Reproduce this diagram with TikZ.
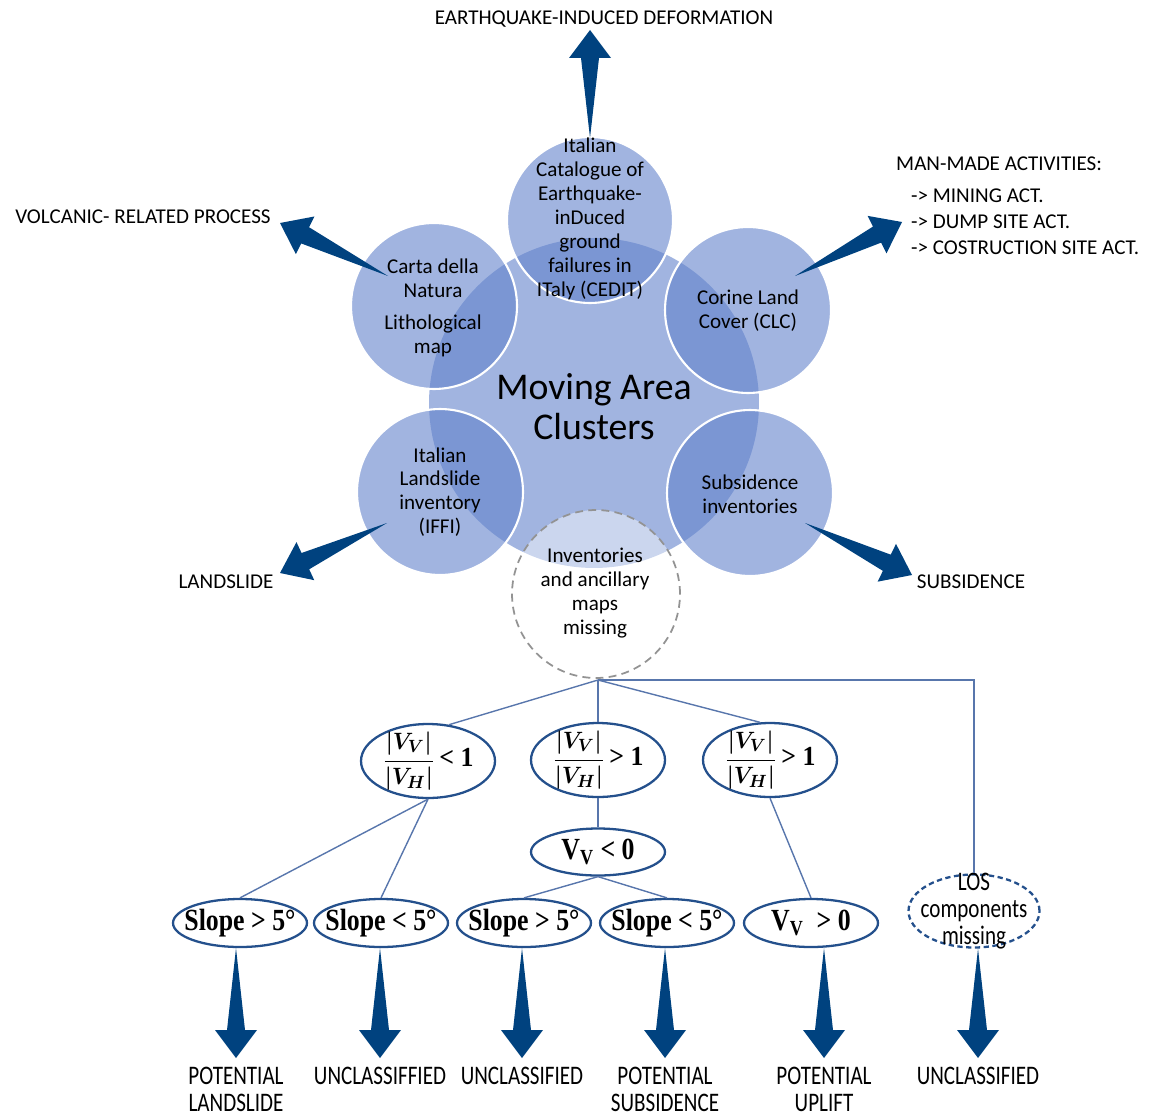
\documentclass[tikz,border=0pt]{standalone}
\usepackage{fontspec}
\setmainfont{Carlito}
\newfontfamily\condfont{Liberation Serif}
\usetikzlibrary{calc}
\usetikzlibrary{shapes.geometric}

\definecolor{circblue}{RGB}{98,130,203}
\definecolor{arrowblue}{RGB}{0,66,127}
\definecolor{treeblue}{RGB}{36,80,140}
\definecolor{linkblue}{RGB}{88,118,172}

\newcommand{\tall}[1]{\scalebox{1}[1.27]{#1}}
\newcommand{\cond}[2][1.25]{\makebox[0pt]{\scalebox{1.05}[#1]{#2}}}
\newcommand{\ratiotext}[1]{\cond[1.12]{{\fontsize{12.5}{14}\selectfont\boldmath$\displaystyle\frac{|V_V|}{|V_H|}$}\,#1}}
\newcommand{\fatarrow}[2]{%
    \fill[arrowblue] (#1)
        -- ($(#2)!0.56cm!(#1)!0.18cm!90:(#2)$)
        -- ($(#2)!0.56cm!(#1)!0.42cm!90:(#2)$)
        -- (#2)
        -- ($(#2)!0.56cm!(#1)!0.42cm!-90:(#2)$)
        -- ($(#2)!0.56cm!(#1)!0.18cm!-90:(#2)$)
        -- cycle;}

\tikzset{
    hub/.style={circle, fill=circblue, fill opacity=0.6, minimum size=6.6cm, inner sep=0pt},
    satellite/.style={circle, fill=circblue, fill opacity=0.6, draw=white, line width=1.2pt,
        minimum size=3.32cm, inner sep=0pt},
    missing/.style={circle, fill=white, fill opacity=0.45, draw=gray!85, draw opacity=1,
        line width=1pt, dash pattern=on 4.5pt off 3pt, minimum size=3.36cm, inner sep=0pt},
    circtext/.style={align=center, font=\fontsize{12}{13.6}\selectfont},
    outtext/.style={font=\fontsize{12}{14}\selectfont},
    test/.style={ellipse, draw=treeblue, line width=1.3pt, inner sep=0pt,
        minimum width=2.68cm, minimum height=0.96cm, font=\condfont\fontsize{14}{16}\selectfont\bfseries},
    ratio/.style={test, minimum height=1.48cm, inner ysep=-5pt},
    link/.style={draw=linkblue, line width=0.8pt},
    result/.style={anchor=north, align=center, font=\fontsize{12}{15.4}\selectfont},
}

\begin{document}
\begin{tikzpicture}[x=0.02cm, y=-0.02cm]
    \useasboundingbox (0,0) rectangle (1151,1118);

    \node[hub] (hub) at (594,403) {};
    \node[satellite] (cedit) at (590,220) {};
    \node[satellite] (carta) at (434,306) {};
    \node[satellite] (clc) at (748,310) {};
    \node[satellite] (iffi) at (440,492) {};
    \node[satellite] (subs) at (750,493) {};
    \node[missing] (gap) at (596,594) {};

    \node[circtext, font=\fontsize{21.5}{22.8}\selectfont] (hubtext) at (594,407) {Moving Area\\Clusters};
    \node[circtext] (cedittext) at (590,219) {Italian\\Catalogue of\\Earthquake-\\inDuced\\ground\\failures in\\ITaly (CEDIT)};
    \node[circtext] (cartatext) at (433,308) {Carta della\\Natura\\[5pt]Lithological\\map};
    \node[circtext] (clctext) at (748,311) {Corine Land\\Cover (CLC)};
    \node[circtext] (iffitext) at (440,492) {Italian\\Landslide\\inventory\\(IFFI)};
    \node[circtext] (substext) at (750,494) {Subsidence\\inventories};
    \node[circtext] (gaptext) at (595,593) {Inventories\\and ancillary\\maps\\missing};

    \node[outtext] (quake) at (604,19) {EARTHQUAKE-INDUCED DEFORMATION};
    \node[outtext] (volcano) at (143,217) {VOLCANIC- RELATED PROCESS};
    \node[outtext] (slide) at (226,582) {LANDSLIDE};
    \node[outtext] (sink) at (971,582) {SUBSIDENCE};
    \node[outtext, anchor=west, align=left, font=\fontsize{12}{14.8}\selectfont] (human) at (890,206)
        {MAN-MADE ACTIVITIES:\\[3.4pt]\hspace*{8.5pt}-> MINING ACT.\\\hspace*{8.5pt}-> DUMP SITE ACT.\\\hspace*{8.5pt}-> COSTRUCTION SITE ACT.};

    \coordinate (quaketail) at (590,138);
    \coordinate (quaketip) at (590,30);
    \coordinate (volcanotail) at (388,276);
    \coordinate (volcanotip) at (280,223);
    \coordinate (humantail) at (795,276);
    \coordinate (humantip) at (902,222);
    \coordinate (slidetail) at (387,523);
    \coordinate (slidetip) at (280,573);
    \coordinate (sinktail) at (805,523);
    \coordinate (sinktip) at (912,575);
    \foreach \a in {quake,volcano,human,slide,sink} {
        \fatarrow{\a tail}{\a tip}
    }

    \coordinate (split) at (598,680);
    \node[ratio] (ratiolow) at (428,761) {\ratiotext{< 1}};
    \node[ratio] (ratiomid) at (598,760) {\ratiotext{> 1}};
    \node[ratio] (ratiohigh) at (770,760) {\ratiotext{> 1}};
    \node[test, minimum height=0.94cm] (sinking) at (598,852) {\cond{V\textsubscript{V} < 0}};
    \node[test] (slopeA) at (240,923) {\cond{Slope > 5°}};
    \node[test] (slopeB) at (381,923) {\cond{Slope < 5°}};
    \node[test] (slopeC) at (524,923) {\cond{Slope > 5°}};
    \node[test] (slopeD) at (667,923) {\cond{Slope < 5°}};
    \node[test] (rising) at (811,923) {\cond{V\textsubscript{V}\ \ > 0}};
    \node[test, dash pattern=on 3pt off 2pt, minimum width=2.62cm, minimum height=1.46cm] (los) at (974,911) {};
    \node[result, anchor=center] (lostext) at (los) {\tall{LOS}\\\tall{components}\\\tall{missing}};

    \draw[link] (split) -- (ratiolow.60);
    \draw[link] (split) -- (ratiomid.north);
    \draw[link] (split) -- (ratiohigh.105);
    \draw[link] (split) -| (los.north);
    \draw[link] (ratiolow.south) -- (slopeA.north);
    \draw[link] (ratiolow.south) -- (slopeB.north);
    \draw[link] (ratiomid.south) -- (sinking.north);
    \draw[link] (sinking.south) -- (slopeC.north);
    \draw[link] (sinking.south) -- (slopeD.north);
    \draw[link] (ratiohigh.south) -- (rising.north);

    \foreach \n/\x/\a/\b in {slopeA/236/POTENTIAL/LANDSLIDE, slopeB/380/UNCLASSIFFIED/,
            slopeC/522/UNCLASSIFIED/, slopeD/665/POTENTIAL/SUBSIDENCE,
            rising/824/POTENTIAL/UPLIFT, los/978/UNCLASSIFIED/} {
        \coordinate (tail\n) at (\n.south -| \x,0);
        \coordinate (tip\n) at (\x,1058);
        \fatarrow{tail\n}{tip\n}
        \node[result] (out\n) at (\x,1061) {\tall{\a}\\\tall{\b}};
    }
\end{tikzpicture}
\end{document}
